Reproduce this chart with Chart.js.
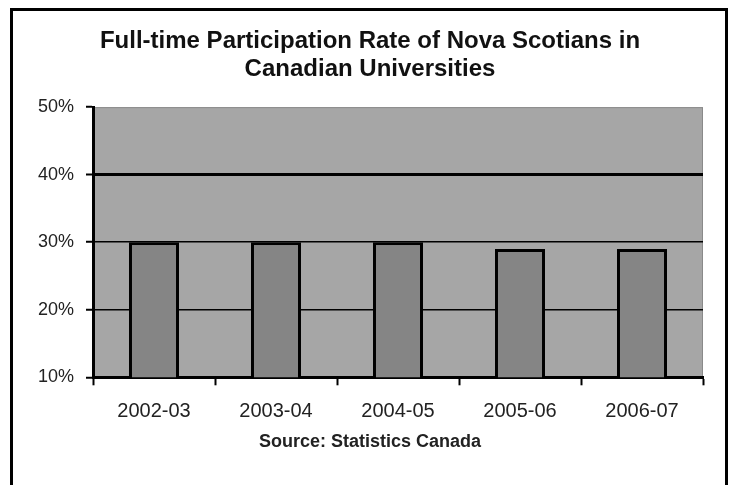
<!DOCTYPE html>
<html>
<head>
<meta charset="utf-8">
<script src="https://cdn.jsdelivr.net/npm/chart.js@4"></script>
<style>
    html, body { margin: 0; padding: 0; background: #fff; overflow: hidden; }
    #frame {
        position: absolute; left: 10px; top: 8px;
        width: 712px; height: 520px;
        border: 3px solid #000;
    }
    #wrap { position: absolute; left: 0; top: 0; width: 729px; height: 485px; }
</style>
</head>
<body>
<div id="frame"></div>
<div id="wrap"><canvas id="rateChart" width="729" height="485"></canvas></div>
<script>
const categories = ["2002-03", "2003-04", "2004-05", "2005-06", "2006-07"];
const rates = [30, 30, 30, 29, 29]; // percent
const yTicks = [10, 20, 30, 40, 50];

document.addEventListener("DOMContentLoaded", () => {
    const ctx = document.getElementById("rateChart").getContext("2d");

    // gray plot area behind grid and bars
    const plotBg = {
        id: "plotBg",
        beforeDraw(chart) {
            const a = chart.chartArea;
            const c = chart.ctx;
            c.save();
            c.fillStyle = "#a6a6a6";
            c.fillRect(a.left, a.top, a.right - a.left, a.bottom - a.top);
            c.strokeStyle = "#8a8a8a";
            c.lineWidth = 1;
            c.strokeRect(a.left + 0.5, a.top + 0.5, a.right - a.left - 1, a.bottom - a.top);
            c.restore();
        }
    };

    new Chart(ctx, {
        type: "bar",
        data: {
            labels: categories,
            datasets: [{
                data: rates,
                backgroundColor: "#858585",
                borderColor: "#000",
                borderWidth: 3,
                barPercentage: 0.41,
                categoryPercentage: 1
            }]
        },
        options: {
            responsive: false,
            animation: false,
            layout: { padding: { left: 37, right: 26, top: 0, bottom: 0 } },
            scales: {
                x: {
                    grid: {
                        offset: true,
                        drawOnChartArea: false,
                        tickLength: 8,
                        tickColor: "#000",
                        tickWidth: 2
                    },
                    border: { color: "#000", width: 3 },
                    ticks: {
                        color: "#222",
                        padding: 14,
                        font: { family: "Liberation Sans, Arial", size: 20 }
                    },
                    afterFit(scale) { scale.height = 50; }
                },
                y: {
                    min: 10,
                    max: 50,
                    afterBuildTicks(scale) {
                        scale.ticks = yTicks.map(v => ({ value: v }));
                    },
                    grid: {
                        color: c => c.tick && c.tick.value === 50 ? "rgba(0,0,0,0)" : "#000",
                        lineWidth: c => c.tick && c.tick.value === 40 ? 3 : 1.5,
                        tickLength: 7,
                        tickColor: "#000",
                        tickWidth: 2
                    },
                    border: { color: "#000", width: 3 },
                    ticks: {
                        color: "#222",
                        padding: 12,
                        font: { family: "Liberation Sans, Arial", size: 18 },
                        callback: v => v + "%"
                    },
                    afterFit(scale) { scale.width = 93 - 37; }
                }
            },
            plugins: {
                legend: { display: false },
                tooltip: { enabled: false },
                title: {
                    display: true,
                    text: ["Full-time Participation Rate of Nova Scotians in", "Canadian Universities"],
                    color: "#111",
                    font: { family: "Liberation Sans, Arial", size: 24, weight: "bold", lineHeight: 1.17 },
                    padding: { top: 27, bottom: 24 }
                },
                subtitle: {
                    display: true,
                    position: "bottom",
                    text: "Source: Statistics Canada",
                    color: "#222",
                    font: { family: "Liberation Sans, Arial", size: 18, weight: "bold", lineHeight: 1.15 },
                    padding: { top: 4, bottom: 33 }
                }
            }
        },
        plugins: [plotBg]
    });
});
</script>
</body>
</html>
